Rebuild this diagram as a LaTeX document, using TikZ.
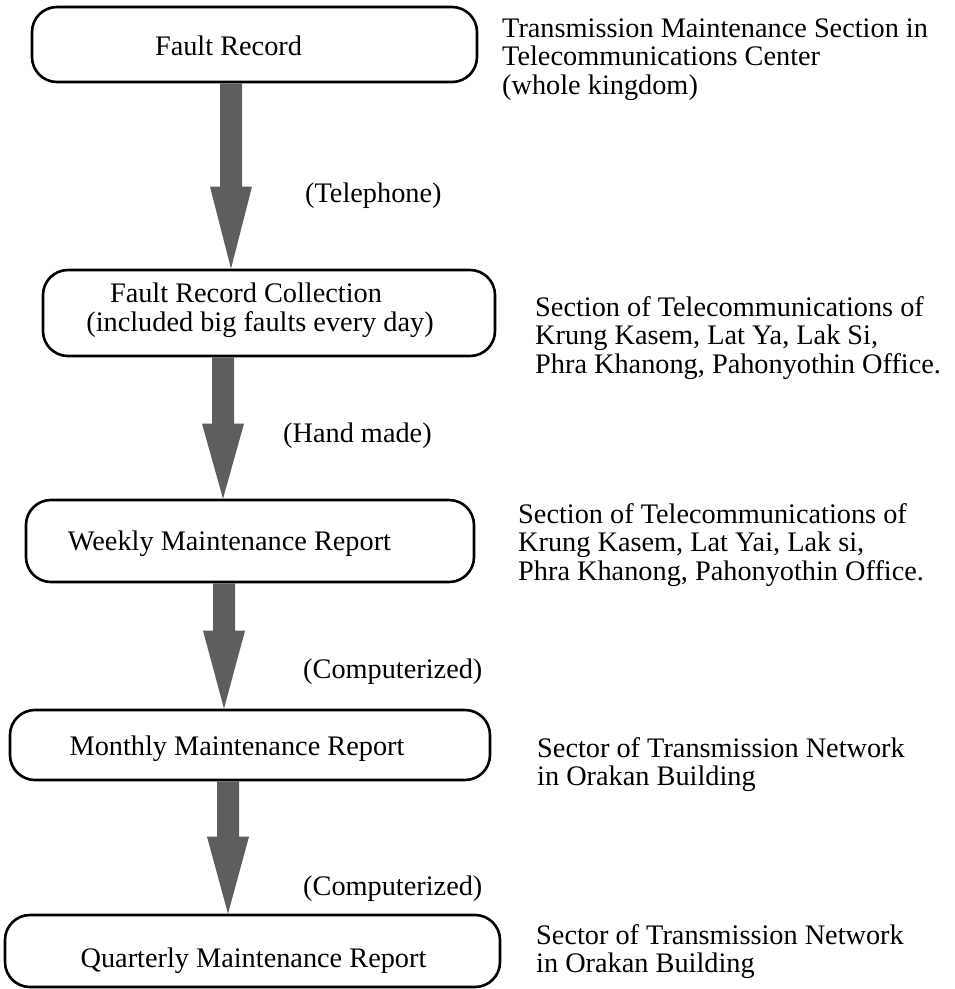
\documentclass[tikz,border=0pt]{standalone}
\usepackage{fontspec}
\setmainfont{Liberation Serif}
\usetikzlibrary{calc}

\newcommand\txtsize{\fontsize{28.3}{28.5}\selectfont}

\tikzset{
  flowbox/.style={draw, line width=2.6pt, rounded corners=25pt, inner sep=0pt},
  boxtext/.style={anchor=base, inner sep=0pt, font=\txtsize},
  via/.style={anchor=base west, inner sep=0pt, font=\txtsize},
  office/.style={anchor=north west, inner sep=0pt, align=left, font=\txtsize},
  arrowfill/.style={fill=black!63},
}

% Broad block arrow from the bottom of #1 to the top of #2,
% centred on the vertical through coordinate #3, head length #4
\newcommand\fatarrow[4]{%
  \fill[arrowfill]
    ($(#1.south -| #3)+(-11,0)$) --
    ($(#2.north -| #3)+(-11,-#4)$) --
    ($(#2.north -| #3)+(-21,-#4)$) --
    (#2.north -| #3) --
    ($(#2.north -| #3)+(21,-#4)$) --
    ($(#2.north -| #3)+(11,-#4)$) --
    ($(#1.south -| #3)+(11,0)$) -- cycle;}

\begin{document}
\begin{tikzpicture}[x=1pt,y=-1pt]
\useasboundingbox (0,0) rectangle (955,989);

% report boxes
\node[flowbox, minimum width=445pt, minimum height=75pt] (b1) at (254.5,44.5) {};
\node[flowbox, minimum width=452pt, minimum height=86pt] (b2) at (269,313) {};
\node[flowbox, minimum width=448pt, minimum height=82pt] (b3) at (250,541) {};
\node[flowbox, minimum width=480pt, minimum height=70pt] (b4) at (250,745) {};
\node[flowbox, minimum width=495pt, minimum height=72pt] (b5) at (252.5,951) {};

% box captions
\node[boxtext] (t1) at (228.5,55) {Fault Record};
\node[boxtext] (t2a) at (246,302) {Fault Record Collection};
\node[boxtext] (t2b) at (260,331) {(included big faults every day)};
\node[boxtext] (t3) at (229.5,550) {Weekly Maintenance Report};
\node[boxtext] (t4) at (237,755) {Monthly Maintenance Report};
\node[boxtext] (t5) at (253.5,967) {Quarterly Maintenance Report};

% arrow axes
\coordinate (ax1) at (231,0);
\coordinate (ax2) at (223,0);
\coordinate (ax3) at (224,0);
\coordinate (ax4) at (228,0);

\fatarrow{b1}{b2}{ax1}{82}
\fatarrow{b2}{b3}{ax2}{75}
\fatarrow{b3}{b4}{ax3}{78}
\fatarrow{b4}{b5}{ax4}{77}

% transfer methods
\node[via] (m1) at (305,202) {(Telephone)};
\node[via] (m2) at (283,442) {(Hand made)};
\node[via] (m3) at (303,678) {(Computerized)};
\node[via] (m4) at (303,895) {(Computerized)};

% responsible offices
\node[office] (o1) at (502,17) {\strut Transmission Maintenance Section in\\Telecommunications Center\\(whole kingdom)};
\node[office] (o2) at (535,296) {\strut Section of Telecommunications of\\Krung Kasem, Lat Ya, Lak Si,\\Phra Khanong, Pahonyothin Office.};
\node[office] (o3) at (518,503) {\strut Section of Telecommunications of\\Krung Kasem, Lat Yai, Lak si,\\Phra Khanong, Pahonyothin Office.};
\node[office] (o4) at (537,737) {\strut Sector of Transmission Network\\in Orakan Building};
\node[office] (o5) at (536,924) {\strut Sector of Transmission Network\\in Orakan Building};
\end{tikzpicture}
\end{document}
